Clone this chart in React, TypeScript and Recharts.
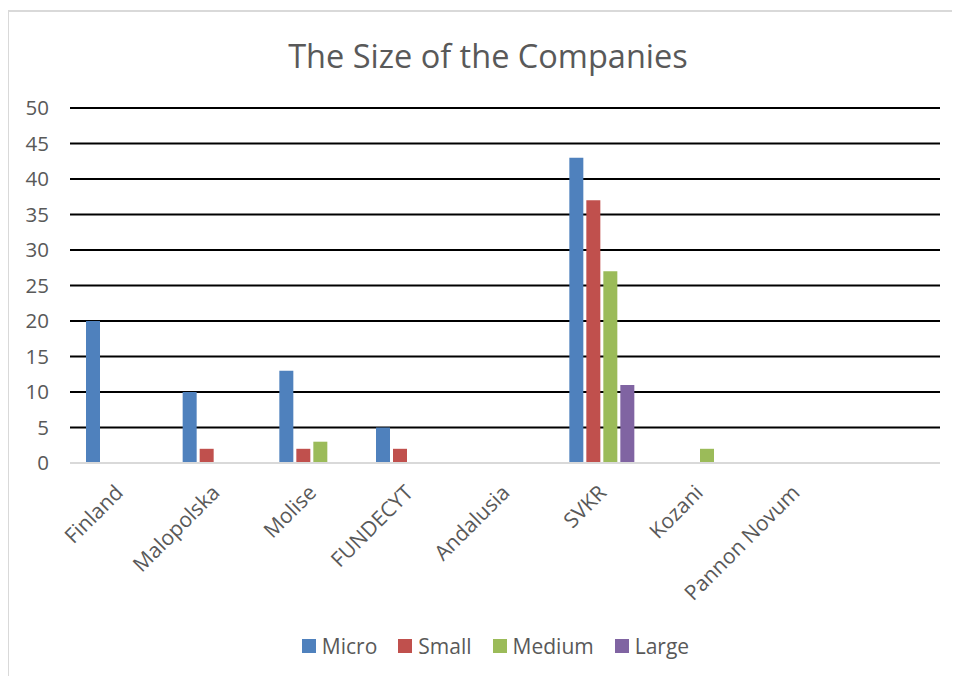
import { BarChart, Bar, XAxis, YAxis, CartesianGrid, Legend } from "recharts";

const regions = ["Finland", "Malopolska", "Molise", "FUNDECYT", "Andalusia", "SVKR", "Kozani", "Pannon Novum", ""];
const micro = [20, 10, 13, 5, 0, 43, 0, 0, 0];
const small = [0, 2, 2, 2, 0, 37, 0, 0, 0];
const medium = [0, 0, 3, 0, 0, 27, 2, 0, 0];
const large = [0, 0, 0, 0, 0, 11, 0, 0, 0];
const yTicks = [0, 5, 10, 15, 20, 25, 30, 35, 40, 45, 50];

const seriesInfo = [
  { key: "Micro", color: "#4F81BD" },
  { key: "Small", color: "#C0504D" },
  { key: "Medium", color: "#9BBB59" },
  { key: "Large", color: "#8064A2" },
];

const FONT = "'Open Sans', sans-serif";
const TEXT = "#595959";

const data = regions.map((name, i) => ({
  name,
  Micro: micro[i],
  Small: small[i],
  Medium: medium[i],
  Large: large[i],
}));

// rotated category label, right end sits just under the category centre
// eslint-disable-next-line @typescript-eslint/no-explicit-any
const RotatedTick = ({ x, y, payload }: any) => (
  <text
    x={x + 6}
    y={y + 23}
    transform={`rotate(-45, ${x + 6}, ${y + 23})`}
    textAnchor="end"
    fontSize={21}
    fontFamily={FONT}
    fill={TEXT}
  >
    {payload.value}
  </text>
);

const LegendContent = () => (
  <div
    style={{
      display: "flex",
      justifyContent: "center",
      gap: 21,
      fontFamily: FONT,
      fontSize: 21,
      color: TEXT,
      paddingTop: 6,
      paddingLeft: 42,
    }}
  >
    {seriesInfo.map((s) => (
      <span key={s.key} style={{ display: "flex", alignItems: "center" }}>
        <span style={{ width: 14, height: 14, background: s.color, marginRight: 6, display: "inline-block" }} />
        {s.key}
      </span>
    ))}
  </div>
);

export default function App() {
  return (
    <div
      style={{
        position: "relative",
        marginLeft: -1,
        marginTop: 2,
        width: 952,
        height: 664,
        borderLeft: "2px solid #d9d9d9",
        borderTop: "2px solid #d9d9d9",
        background: "#fff",
      }}
    >
      <div
        style={{
          position: "absolute",
          top: 21,
          left: 0,
          width: 958,
          textAlign: "center",
          fontFamily: FONT,
          fontSize: 32.5,
          color: TEXT,
        }}
      >
        The Size of the Companies
      </div>
      <BarChart
        width={950}
        height={664}
        data={data}
        margin={{ top: 96, right: 19, left: 0, bottom: 0 }}
        barCategoryGap={16}
        barGap={3}
      >
        <CartesianGrid
          vertical={false}
          stroke="#000"
          strokeWidth={2}
          horizontalValues={yTicks.filter((t) => t > 0)}
        />
        <XAxis
          dataKey="name"
          interval={0}
          tick={<RotatedTick />}
          tickLine={false}
          axisLine={{ stroke: "#d9d9d9", strokeWidth: 2 }}
          height={163}
        />
        <YAxis
          domain={[0, 50]}
          ticks={yTicks}
          width={61}
          tickLine={false}
          axisLine={false}
          tickSize={19}
          tick={{ fontSize: 20.5, fill: TEXT, fontFamily: FONT }}
        />
        <Legend verticalAlign="bottom" height={50} content={<LegendContent />} />
        {seriesInfo.map((s) => (
          <Bar key={s.key} dataKey={s.key} fill={s.color} isAnimationActive={false} />
        ))}
      </BarChart>
    </div>
  );
}
